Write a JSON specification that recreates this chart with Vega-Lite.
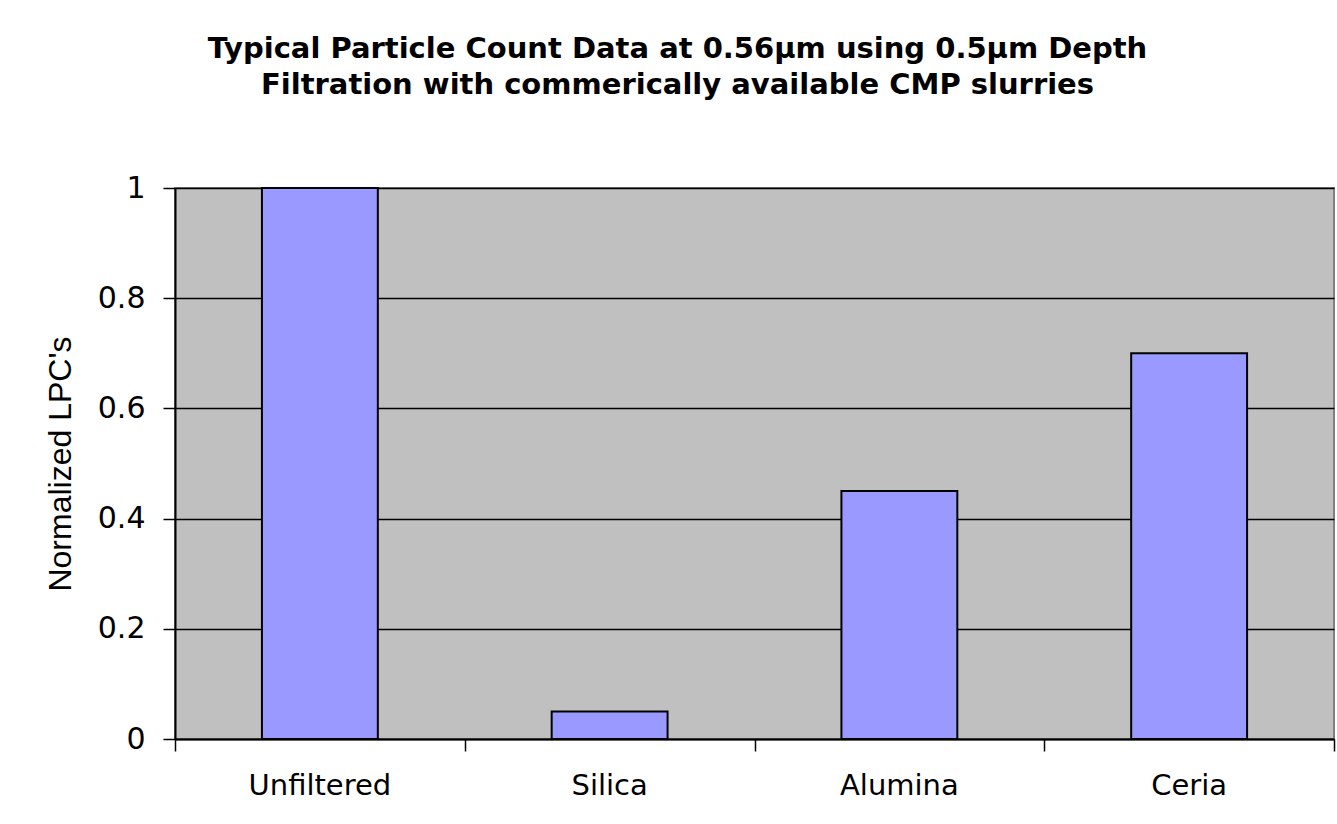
{
  "$schema": "https://vega.github.io/schema/vega-lite/v6.json",
  "autosize": {"type": "none"},
  "width": 1159,
  "height": 551,
  "padding": {"left": 175, "top": 188, "right": 3, "bottom": 85},
  "background": "white",
  "title": {
    "text": ["Typical Particle Count Data at 0.56μm using 0.5μm Depth", "Filtration with commerically available CMP slurries"],
    "font": "DejaVu Sans",
    "fontSize": 29,
    "fontWeight": "bold",
    "color": "black",
    "lineHeight": 36,
    "anchor": "middle",
    "dx": -77,
    "offset": 73
  },
  "data": {
    "values": [
      {"slurry": "Unfiltered", "lpc": 1.0},
      {"slurry": "Silica", "lpc": 0.05},
      {"slurry": "Alumina", "lpc": 0.45},
      {"slurry": "Ceria", "lpc": 0.7}
    ]
  },
  "config": {
    "view": {"stroke": "#808080", "strokeWidth": 2, "fill": "#C0C0C0"}
  },
  "layer": [
    {
      "mark": {"type": "bar", "fill": "#9999FF", "stroke": "black", "strokeWidth": 2, "width": {"band": 0.4}},
      "encoding": {
        "x": {
          "field": "slurry",
          "type": "nominal",
          "sort": null,
          "scale": {"paddingInner": 0, "paddingOuter": 0},
          "axis": {
            "title": null,
            "labelAngle": 0,
            "labelFont": "DejaVu Sans",
            "labelFontSize": 29,
            "labelColor": "black",
            "labelPadding": 32,
            "ticks": false,
            "domain": true,
            "domainColor": "black",
            "domainWidth": 2,
            "grid": false
          }
        },
        "y": {
          "field": "lpc",
          "type": "quantitative",
          "scale": {"domain": [0, 1], "nice": false},
          "axis": {
            "title": "Normalized LPC's",
            "titleFont": "Liberation Sans",
            "titleFontSize": 32,
            "titleFontWeight": "normal",
            "titleColor": "black",
            "titlePadding": 20,
            "values": [0, 0.2, 0.4, 0.6, 0.8, 1],
            "format": ".1~f",
            "labelFont": "DejaVu Sans",
            "labelFontSize": 30,
            "labelColor": "black",
            "labelPadding": 18,
            "tickSize": 12,
            "tickColor": "black",
            "tickWidth": 1.5,
            "domainColor": "black",
            "domainWidth": 2,
            "grid": true,
            "gridColor": "black",
            "gridWidth": 1.5
          }
        }
      }
    },
    {
      "mark": {"type": "rule", "opacity": 0},
      "encoding": {
        "x": {
          "datum": 0,
          "type": "quantitative",
          "scale": {"domain": [0, 4], "nice": false},
          "axis": {
            "orient": "bottom",
            "values": [0, 1, 2, 3, 4],
            "labels": false,
            "ticks": true,
            "tickSize": 12,
            "tickColor": "black",
            "tickWidth": 1.5,
            "domain": false,
            "grid": false,
            "title": null
          }
        }
      }
    }
  ],
  "resolve": {"scale": {"x": "independent"}, "axis": {"x": "independent"}}
}
